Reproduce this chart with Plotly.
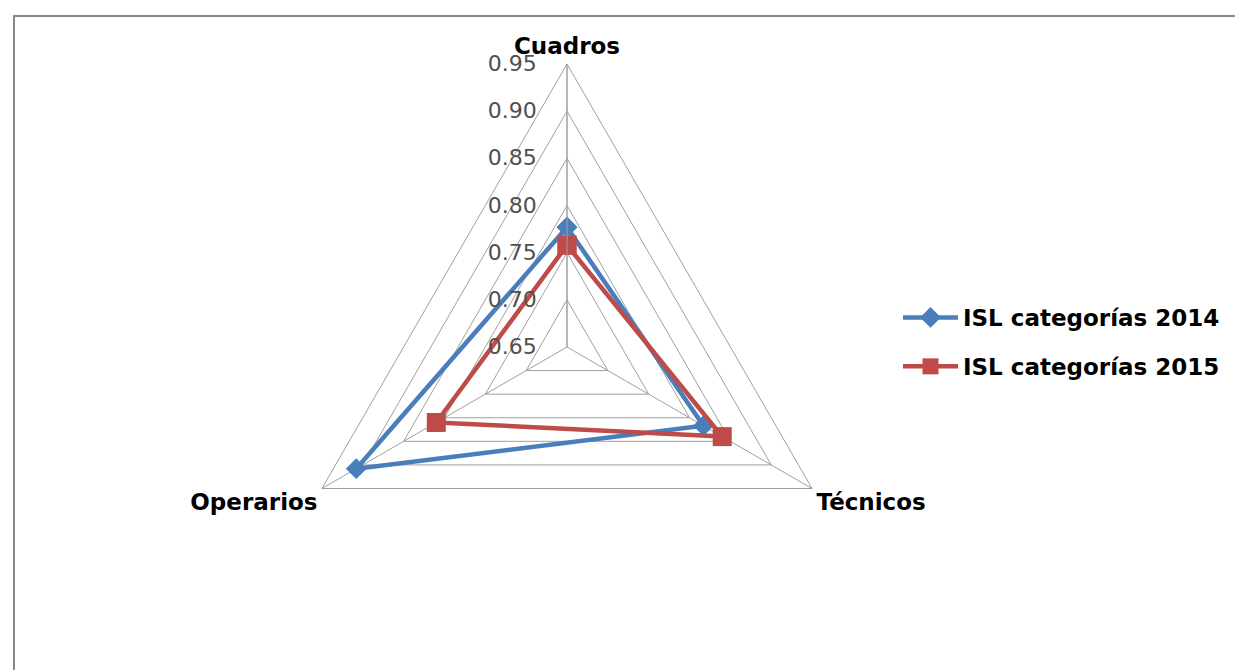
import plotly.graph_objects as go

categories = ["Cuadros", "Técnicos", "Operarios"]
isl_2014 = [0.777, 0.817, 0.908]
isl_2015 = [0.758, 0.840, 0.810]
series_names = ["ISL categorías 2014", "ISL categorías 2015"]
tick_values = [0.65, 0.70, 0.75, 0.80, 0.85, 0.90, 0.95]
tick_labels = ["0.65", "0.70", "0.75", "0.80", "0.85", "0.90", "0.95"]

W, H = 1243, 670
cx, cy, R = 559, 339, 283

def close(v):
    return list(v) + [v[0]]

fig = go.Figure()
fig.add_trace(go.Scatterpolar(
    r=close(isl_2014), theta=close(categories), name=series_names[0],
    mode="lines+markers", legendgroup="a",
    line=dict(color="#4A7EBB", width=4.5),
    marker=dict(symbol="diamond", size=16, color="#4A7EBB"),
))
fig.add_trace(go.Scatterpolar(
    r=close(isl_2015), theta=close(categories), name=series_names[1],
    mode="lines+markers", legendgroup="b",
    line=dict(color="#BE4B48", width=4.5),
    marker=dict(symbol="square", size=19, color="#BE4B48"),
))

grid = "#a0a0a0"
fig.update_layout(
    width=W, height=H,
    margin=dict(l=0, r=0, t=0, b=0),
    paper_bgcolor="white",
    plot_bgcolor="white",
    font=dict(family="DejaVu Sans, sans-serif", color="#000000"),
    polar=dict(
        domain=dict(x=[(cx - R) / W, (cx + R) / W],
                    y=[(H - cy - R) / H, (H - cy + R) / H]),
        bgcolor="white",
        gridshape="linear",
        radialaxis=dict(
            range=[0.65, 0.95],
            tickvals=tick_values, ticktext=tick_labels,
            angle=90, tickangle=90, side="counterclockwise",
            showline=True, linecolor=grid, linewidth=1,
            gridcolor=grid, gridwidth=1,
            ticks="outside", ticklen=22, tickcolor="rgba(0,0,0,0)",
            tickfont=dict(size=22, color="#505050"),
        ),
        angularaxis=dict(
            direction="clockwise", rotation=90,
            showline=True, linecolor=grid, linewidth=1,
            gridcolor=grid, gridwidth=1, ticks="",
            tickfont=dict(size=23, color="#000000", weight="bold"),
        ),
    ),
    legend=dict(
        x=890 / W, y=1 - 334 / H, xanchor="left", yanchor="middle",
        font=dict(size=23, color="#000000", weight="bold"),
        tracegroupgap=16, itemwidth=55,
        bgcolor="rgba(0,0,0,0)",
    ),
    shapes=[dict(type="rect", xref="paper", yref="paper",
                 x0=6 / W, x1=1237 / W, y0=-0.05, y1=1 - 8 / H,
                 line=dict(color="#888888", width=2))],
)

fig.write_html("out.html")
